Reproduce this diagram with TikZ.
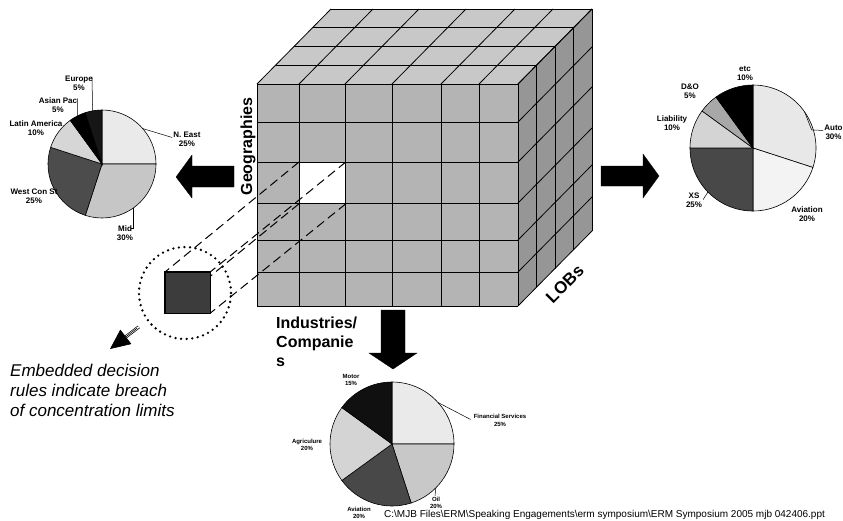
\documentclass[tikz,border=0pt]{standalone}
\usepackage{fontspec}
\setmainfont{Liberation Sans}
\usetikzlibrary{arrows.meta}
% cube shades
\definecolor{cubetop}{RGB}{200,200,200}
\definecolor{cubefront}{RGB}{180,180,180}
\definecolor{cubeside}{RGB}{150,150,150}
\definecolor{cellmark}{RGB}{60,60,60}
% geography pie
\definecolor{geoA}{RGB}{234,234,234}
\definecolor{geoB}{RGB}{198,198,198}
\definecolor{geoC}{RGB}{76,76,76}
\definecolor{geoD}{RGB}{214,214,214}
\definecolor{geoE}{RGB}{0,0,0}
\definecolor{geoF}{RGB}{22,22,22}
% line-of-business pie
\definecolor{lobA}{RGB}{232,232,232}
\definecolor{lobB}{RGB}{243,243,243}
\definecolor{lobC}{RGB}{72,72,72}
\definecolor{lobD}{RGB}{212,212,212}
\definecolor{lobE}{RGB}{168,168,168}
\definecolor{lobF}{RGB}{0,0,0}
% industry pie
\definecolor{indA}{RGB}{234,234,234}
\definecolor{indB}{RGB}{200,200,200}
\definecolor{indC}{RGB}{72,72,72}
\definecolor{indD}{RGB}{212,212,212}
\definecolor{indE}{RGB}{16,16,16}
\begin{document}
\begin{tikzpicture}[x=1pt,y=1pt,
  grid/.style={draw=black, line width=0.8pt},
  slice/.style={draw=black, line width=0.6pt},
  leader/.style={draw=black, line width=0.5pt},
  pielbl/.style={font=\bfseries\fontsize{8}{9}\selectfont, align=center, inner sep=0pt},
  tinylbl/.style={font=\bfseries\fontsize{6}{7.5}\selectfont, align=center, inner sep=0pt},
  axislbl/.style={font=\bfseries\fontsize{16}{19}\selectfont, inner sep=0pt},
  blockarrow/.style={fill=black, draw=black, line width=0.3pt},
  rulesdash/.style={draw=black, line width=1pt, dash pattern=on 9pt off 5pt},
]
\useasboundingbox (0,0) rectangle (843,-520);

% ---------------- data cube ----------------
\fill[cubetop] (257,-84) -- (518,-84) -- (592,-9) -- (331,-9) -- cycle;
\fill[cubeside] (518,-84) -- (592,-9) -- (592,-231) -- (518,-306) -- cycle;
\fill[cubefront] (257,-84) rectangle (518,-306);
\foreach \x in {257,299,345,392,441,479,518} {
  \draw[grid] (\x,-84) -- (\x,-306);
  \draw[grid] (\x,-84) -- ++(74,75);
}
\foreach \y in {84,122,162,203,240,272,306} {
  \draw[grid] (257,-\y) -- (518,-\y);
  \draw[grid] (518,-\y) -- ++(74,75);
}
\foreach \k in {1,2,3,4} {
  \draw[grid] (257+18.5*\k,-84+18.75*\k) -- ++(261,0);
  \draw[grid] (518+18.5*\k,-84+18.75*\k) -- ++(0,-222);
}

% selected cell and its pulled-out copy
\node[draw=black, fill=white, line width=0.8pt, minimum width=46pt, minimum height=41pt,
      inner sep=0pt, anchor=north west] (cell) at (299,-162) {};
\node[draw=black, fill=cellmark, line width=1.2pt, minimum width=44pt, minimum height=40pt,
      inner sep=0pt, anchor=north west] (sq) at (165,-272) {};
\foreach \a in {north west,north east,south west,south east}
  \draw[rulesdash] (cell.\a) -- (sq.\a);
\filldraw[draw=black, fill=cellmark, line width=1.2pt] (sq.north west) rectangle (sq.south east);

% dotted ring and pointer to the note
\node[circle, minimum size=92pt, inner sep=0pt, draw=black, line width=2.6pt,
      dash pattern=on 0pt off 5.6pt, line cap=round] (ring) at (185,-293) {};
\coordinate (tipc) at (110,-349);
\draw[double=white, double distance=1.8pt, line width=0.7pt, shorten <=10pt, shorten >=16pt]
  (ring.216) -- (tipc);
\draw[line width=0.6pt, -{Triangle[length=20pt,width=18pt]}, shorten <=12pt] (ring.216) -- (tipc);
\node[font=\itshape\fontsize{17}{20}\selectfont, align=left, anchor=north west, inner sep=0pt]
  (note) at (10,-364) {Embedded decision\\rules indicate breach\\of concentration limits};

% axis labels
\node[axislbl, rotate=90, anchor=base] (geoaxis) at (252,-146.5) {Geographies};
\node[axislbl, font=\bfseries\fontsize{17}{19}\selectfont, rotate=45, anchor=base] (lobaxis) at (569,-288) {LOBs};
\node[axislbl, align=left, anchor=north west] (indaxis) at (276,-317) {Industries/\\Companie\\s};

% block arrows
\filldraw[blockarrow] (176,-177) -- (192,-155) -- (192,-166) -- (234,-166) -- (234,-187)
  -- (192,-187) -- (192,-198) -- cycle;
\filldraw[blockarrow] (601,-166) -- (643,-166) -- (643,-154) -- (659,-176) -- (643,-198)
  -- (643,-186) -- (601,-186) -- cycle;
\filldraw[blockarrow] (381,-310) -- (405,-310) -- (405,-353) -- (417,-353) -- (393,-369)
  -- (369,-353) -- (381,-353) -- cycle;

% ---------------- geographies pie ----------------
\coordinate (geo) at (102,-164);
\foreach \a/\b/\c in {90/0/geoA, 0/-108/geoB, -108/-198/geoC, -198/-234/geoD, -234/-252/geoE, -252/-270/geoF}
  \filldraw[slice, fill=\c] (geo) -- ++(\a:54) arc[start angle=\a, end angle=\b, radius=54] -- cycle;
\node[pielbl] (eu) at (79,-83) {Europe\\5\%};
\node[pielbl] (as) at (58,-105) {Asian Pac\\5\%};
\node[pielbl] (la) at (36,-128) {Latin America\\10\%};
\node[pielbl] (ne) at (187,-139.5) {N. East\\25\%};
\node[pielbl] (wc) at (34,-196) {West Con St\\25\%};
\node[pielbl] (mid) at (125,-233) {Mid\\30\%};
\path (geo) ++(100:54) coordinate (euP);
\path (geo) ++(117:54) coordinate (asP);
\path (geo) ++(41:54) coordinate (neP);
\path (geo) ++(-55:54) coordinate (midP);
\draw[leader] ([xshift=-1pt,yshift=-1pt]eu.north east) -- (euP);
\draw[leader] ([yshift=-1pt]as.north east) -- (asP);
\draw[leader] (neP) -- ([xshift=-1pt,yshift=2pt]ne.west);
\draw[leader] (midP) |- ([shift={(-2pt,-3pt)}]mid.north east);

% ---------------- lines of business pie ----------------
\coordinate (lob) at (753,-148);
\foreach \a/\b/\c in {90/-18/lobA, -18/-90/lobB, -90/-180/lobC, -180/-216/lobD, -216/-234/lobE, -234/-270/lobF}
  \filldraw[slice, fill=\c] (lob) -- ++(\a:63) arc[start angle=\a, end angle=\b, radius=63] -- cycle;
\node[pielbl] (etc) at (745,-73.5) {etc\\10\%};
\node[pielbl] (dno) at (690,-91) {D\&O\\5\%};
\node[pielbl] (liab) at (672,-123) {Liability\\10\%};
\node[pielbl] (auto) at (833.5,-132.5) {Auto\\30\%};
\node[pielbl] (avl) at (807,-214) {Aviation\\20\%};
\node[pielbl] (xs) at (694,-200.5) {XS\\25\%};
\path (lob) ++(35:63) coordinate (autoP);
\path (lob) ++(224.3:63) coordinate (xsP);
\draw[leader] (autoP) -- ++(7,-18) -- ([xshift=-1pt,yshift=2pt]auto.west);
\draw[leader] ([xshift=1pt,yshift=1pt]xs.east) -- (xsP);

% ---------------- industries pie ----------------
\coordinate (ind) at (392,-444);
\foreach \a/\b/\c in {90/0/indA, 0/-72/indB, -72/-144/indC, -144/-216/indD, -216/-270/indE}
  \filldraw[slice, fill=\c] (ind) -- ++(\a:62) arc[start angle=\a, end angle=\b, radius=62] -- cycle;
\node[tinylbl] (motor) at (351,-380) {Motor\\15\%};
\node[tinylbl] (fin) at (500,-420.5) {Financial Services\\25\%};
\node[tinylbl] (agri) at (307,-445) {Agriculure\\20\%};
\node[tinylbl] (avi) at (359,-513) {Aviation\\20\%};
\node[tinylbl] (oil) at (436,-503) {Oil\\20\%};
\path (ind) ++(42:62) coordinate (finP);
\path (ind) ++(-45:62) coordinate (oilP);
\draw[leader] (finP) -- ([xshift=-3pt,yshift=1pt]fin.west);
\draw[leader] (oilP) -- ([xshift=-1pt,yshift=1pt]oil.north);

% file path footer
\node[font=\fontsize{10}{12}\selectfont, anchor=base west, inner sep=0pt] (filepath) at (384,-517.5)
  {C:\textbackslash{}MJB Files\textbackslash{}ERM\textbackslash{}Speaking Engagements\textbackslash{}erm symposium\textbackslash{}ERM Symposium 2005 mjb 042406.ppt};
\end{tikzpicture}
\end{document}
